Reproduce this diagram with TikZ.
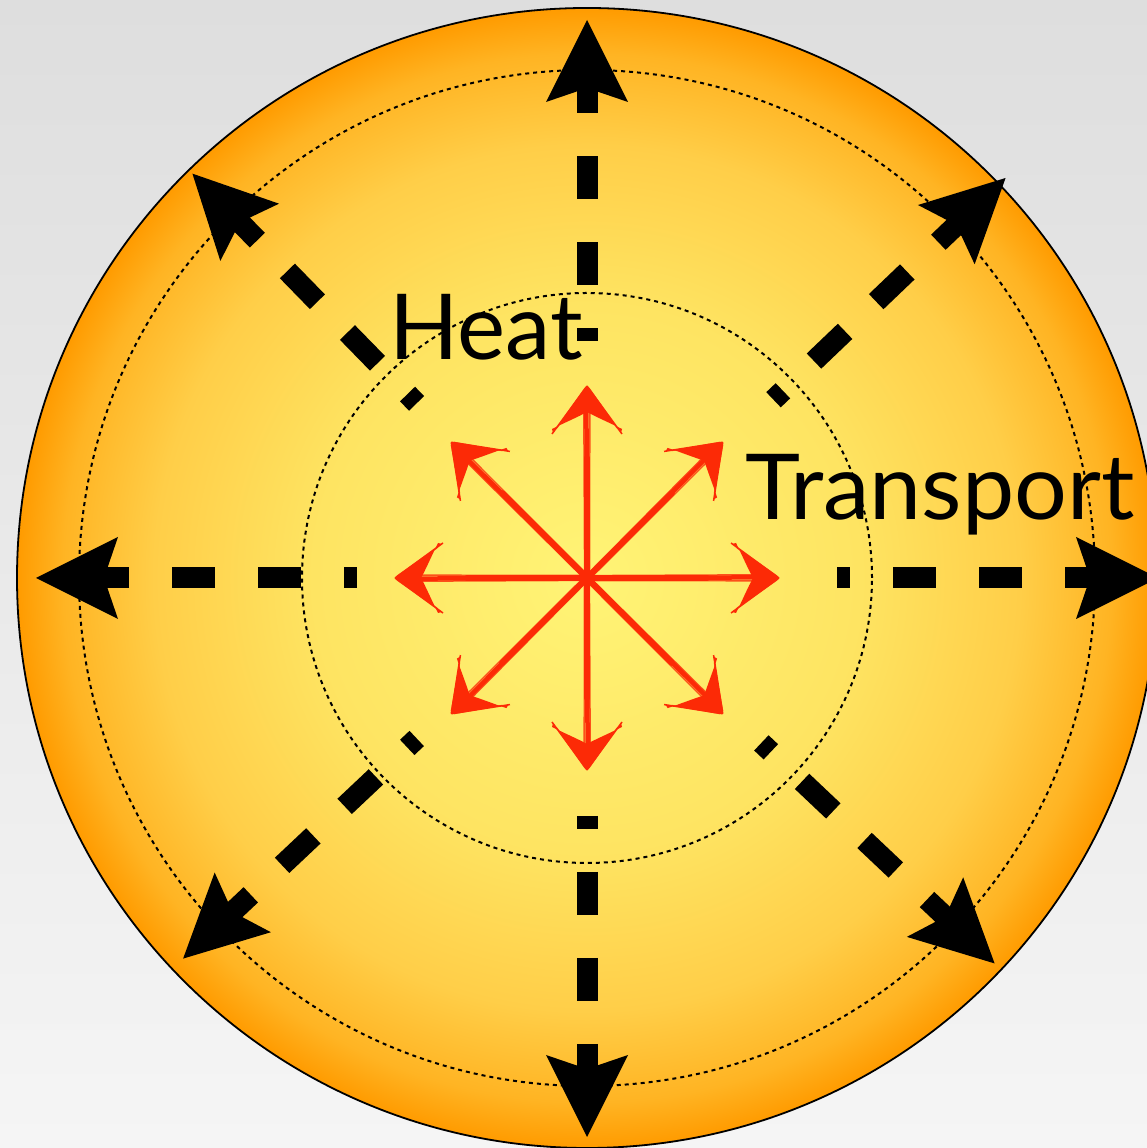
\documentclass[tikz,border=0pt]{standalone}
\usepackage{fontspec}
\newfontfamily\labelfont{Lato}
\usetikzlibrary{calc}
\definecolor{bgtop}{RGB}{222,222,222}
\definecolor{bgbot}{RGB}{245,245,245}
\definecolor{sunA}{RGB}{255,244,118}
\definecolor{sunB}{RGB}{254,228,98}
\definecolor{sunC}{RGB}{255,206,72}
\definecolor{sunD}{RGB}{255,180,35}
\definecolor{sunE}{RGB}{255,155,0}
\definecolor{sketchred}{RGB}{252,42,6}
\pgfdeclareradialshading{sunshade}{\pgfpoint{0bp}{0bp}}{color(0bp)=(sunA); color(12bp)=(sunB); color(19bp)=(sunC); color(23bp)=(sunD); color(25bp)=(sunE); color(50bp)=(sunE)}
\tikzset{
  flowline/.style={line width=21pt, dash pattern=on 43pt off 43pt, dash phase=30pt},
  ringline/.style={line width=2pt, dash pattern=on 4pt off 4pt},
  label/.style={anchor=base west, inner sep=0pt, font=\labelfont\fontsize{91}{91}\selectfont}
}
\begin{document}
\begin{tikzpicture}[x=1pt,y=1pt]
\useasboundingbox (0,0) rectangle (1147,1148);
\begin{scope}
\clip (0,0) rectangle (1147,1148);
\shade[top color=bgtop, bottom color=bgbot] (0,0) rectangle (1147,1148);
\coordinate (c) at (587,570);
\shade[shading=sunshade] (c) circle (570);
\draw[line width=1.8pt] (c) circle (570);
\draw[ringline] (c) circle (508);
\draw[ringline] (c) circle (285);
% black dashed arrows
\foreach \a/\S in {180/458, 90/465, 0/478, 270/466, 43.7/486, 134.3/472, 223.3/462, -43.4/468} {
  \begin{scope}[shift={(c)}, rotate=\a]
    \draw[flowline] ({\S-228},0) -- ({\S+30},0);
    \fill ({\S+93},0) -- ({\S+11},41) -- ({\S+25},0) -- ({\S+11},-41) -- cycle;
  \end{scope}
}
% red sketchy arrows
\foreach \a in {0,45,...,315} {
  \begin{scope}[shift={(c)}, rotate=\a]
    \draw[sketchred, line width=6pt, line cap=round] (2,0) -- (120,0);
    \draw[sketchred, line width=4.5pt, line cap=round] (2,0) -- (176,0.6);
    \draw[sketchred, line width=1.5pt, opacity=.8] (6,2.4) -- (174,3.2);
    \draw[sketchred, line width=1.5pt, opacity=.8] (6,-2.6) -- (174,-2.8);
    \fill[sketchred] (192,0) -- (145,34) -- (149,35) .. controls (156,21) and (161,9) .. (166,0)
      .. controls (161,-9) and (156,-21) .. (149,-35) -- (145,-34) -- cycle;
    \draw[sketchred, line width=1.5pt] (192,0) -- (144,35) (192,0) -- (144,-35);
    \draw[sketchred, line width=1pt, opacity=.8] (190,2) -- (150,30) (190,-2) -- (150,-30);
  \end{scope}
}
\node[label] (heat) at (389,788) {Heat};
\node[label] (transport) at (745,628) {\scalebox{1.025}[1]{Transport}};
\end{scope}
\end{tikzpicture}
\end{document}
